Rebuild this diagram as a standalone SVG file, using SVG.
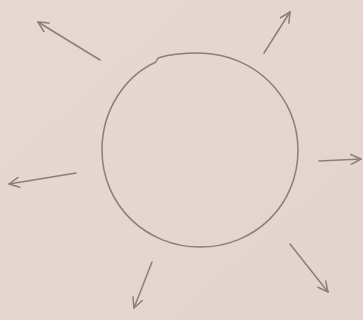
<svg xmlns="http://www.w3.org/2000/svg" width="363" height="320" viewBox="0 0 363 320">
<defs>
<style>
.ln{fill:none;stroke:#878080;stroke-width:1.5;stroke-linecap:round;stroke-linejoin:round}
</style>
<marker id="ah" viewBox="0 0 12 12" refX="11" refY="6" markerWidth="12" markerHeight="12" markerUnits="userSpaceOnUse" orient="auto">
<path d="M1,1 L11,6 L1,11" fill="none" stroke="#878080" stroke-width="1.5" stroke-linecap="round" stroke-linejoin="round"/>
</marker>
<linearGradient id="bg" x1="0" y1="0" x2="1" y2="1">
<stop offset="0" stop-color="#e7d8d2"/>
<stop offset="1" stop-color="#e4d4ce"/>
</linearGradient>
</defs>
<rect width="363" height="320" fill="url(#bg)"/>
<g id="sun">
<path class="ln" d="M158,58 C170,54 185,53 200,53 C255,54 298,97 298,150 C298,205 255,247 200,247 C146,247 102,205 102,150 C102,110 125,76 156,62 L158,58 Z"/>
</g>
<g id="connectors">
<path class="ln" marker-end="url(#ah)" d="M100,60 L38,22"/>
<path class="ln" marker-end="url(#ah)" d="M264,53 L290,12"/>
<path class="ln" marker-end="url(#ah)" d="M76,173 L9,184"/>
<path class="ln" marker-end="url(#ah)" d="M319,161 L361,159"/>
<path class="ln" marker-end="url(#ah)" d="M290,244 L328,292"/>
<path class="ln" marker-end="url(#ah)" d="M152,262 L134,308"/>
</g>
</svg>
